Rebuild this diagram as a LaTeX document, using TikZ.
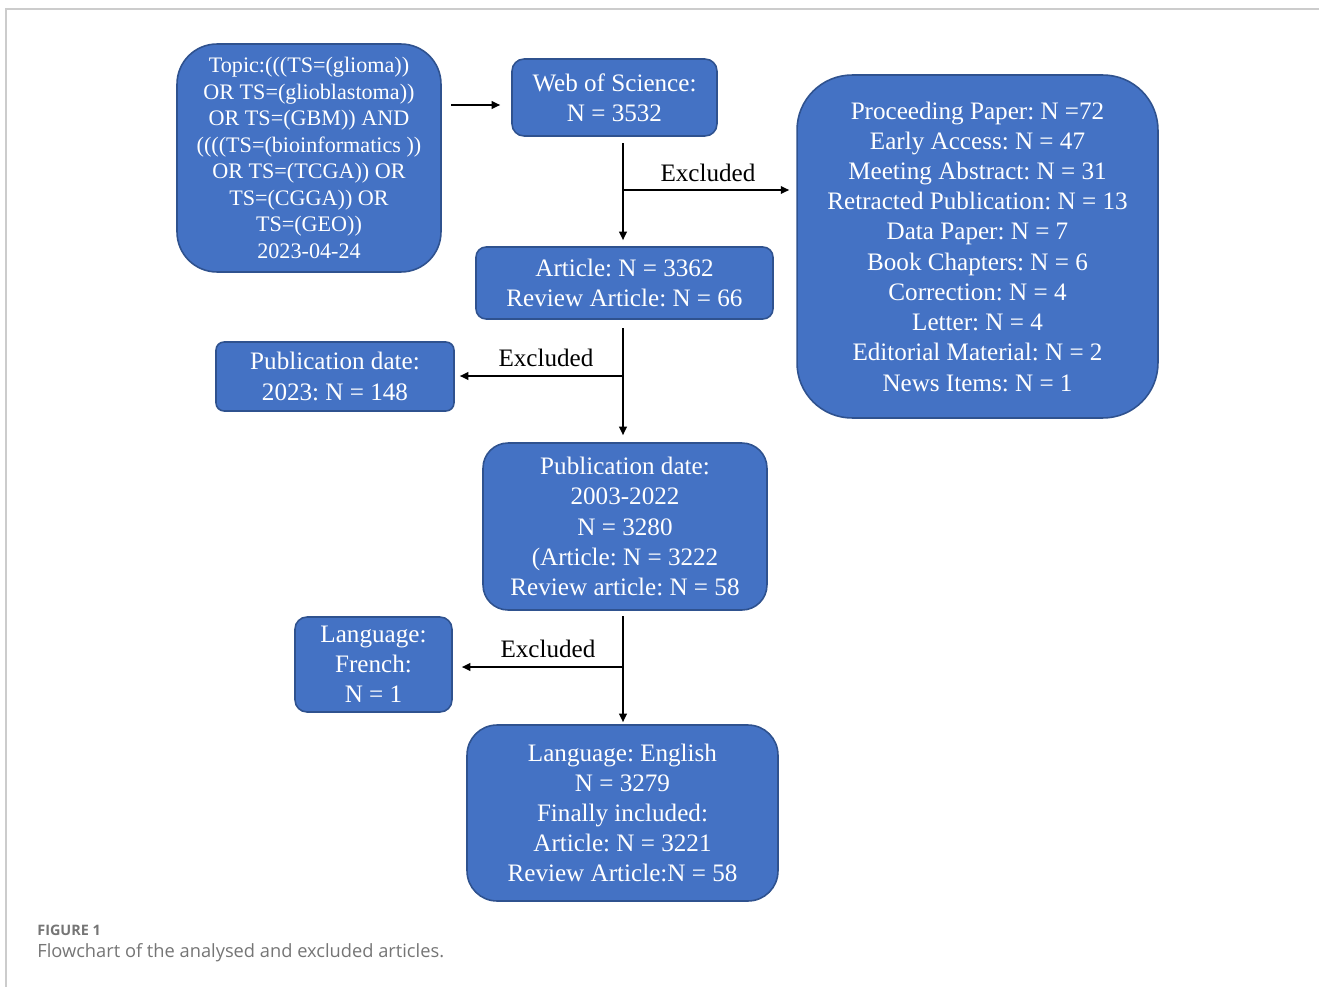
\documentclass[tikz,border=0pt]{standalone}
\usepackage{fontspec}
\setmainfont{Liberation Serif}
\newfontfamily\capfont{Open Sans}
\usetikzlibrary{arrows.meta}
\frenchspacing
\definecolor{boxfill}{HTML}{4472C4}
\definecolor{boxline}{HTML}{2F528F}
\definecolor{capgray}{HTML}{757575}
\definecolor{framegray}{HTML}{CCCCCC}
\tikzset{
  box/.style={draw=boxline, line width=0.9pt, fill=boxfill, text=white, align=center,
    font=\fontsize{14.3}{17.2}\selectfont, inner sep=0pt},
  arr/.style={line width=1.1pt, -{Triangle[length=0.17cm,width=0.15cm]}},
  exlab/.style={font=\fontsize{14.3}{17.2}\selectfont, inner sep=0pt}
}
\begin{document}
\begin{tikzpicture}[x=0.02cm,y=-0.02cm]
\useasboundingbox (0,0) rectangle (1319,987);
% frame
\draw[framegray, line width=0.6pt] (6,987) -- (6,9) -- (1319,9);

% boxes
\node[box, rounded corners=0.8cm, minimum width=5.28cm, minimum height=4.56cm,
  font=\fontsize{12.6}{15.1}\selectfont] (topic) at (309,158)
  {Topic:(((TS=(glioma))\\OR TS=(glioblastoma))\\OR TS=(GBM)) AND\\((((TS=(bioinformatics ))\\OR TS=(TCGA)) OR\\TS=(CGGA)) OR\\TS=(GEO))\\2023-04-24};
\node[box, rounded corners=0.24cm, minimum width=4.1cm, minimum height=1.54cm] (wos) at (614.5,97.5)
  {Web of Science:\\N = 3532};
\node[box, rounded corners=0.2cm, minimum width=5.94cm, minimum height=1.44cm] (art) at (624.5,283)
  {Article: N = 3362\\Review Article: N = 66};
\node[box, rounded corners=1.1cm, minimum width=7.22cm, minimum height=6.86cm] (excl) at (977.5,246.5)
  {Proceeding Paper: N =72\\Early Access: N = 47\\Meeting Abstract: N = 31\\Retracted Publication: N = 13\\Data Paper: N = 7\\Book Chapters: N = 6\\Correction: N = 4\\Letter: N = 4\\Editorial Material: N = 2\\News Items: N = 1};
\node[box, rounded corners=0.16cm, minimum width=4.76cm, minimum height=1.38cm] (p2023) at (335,376.5)
  {Publication date:\\2023: N = 148};
\node[box, rounded corners=0.5cm, minimum width=5.68cm, minimum height=3.34cm] (pdate) at (625,526.5)
  {Publication date:\\2003-2022\\N = 3280\\(Article: N = 3222\\Review article: N = 58};
\node[box, rounded corners=0.24cm, minimum width=3.14cm, minimum height=1.9cm] (fr) at (373.5,664.5)
  {Language:\\French:\\N = 1};
\node[box, rounded corners=0.6cm, minimum width=6.22cm, minimum height=3.52cm] (en) at (622.5,813)
  {Language: English\\N = 3279\\Finally included:\\Article: N = 3221\\Review Article:N = 58};

% connectors
\coordinate (s0) at (451,105);
\draw[arr, shorten >=0.22cm] (s0) -- (s0 -| wos.west);

\coordinate (s1) at (623,143);
\coordinate (j1) at (623,190);
\draw[arr, shorten >=0.12cm] (s1) -- (s1 |- art.north);
\draw[arr, shorten >=0.14cm] (j1) -- (j1 -| excl.west);
\node[exlab] (ex1) at (708,173) {Excluded};

\coordinate (s2) at (623,328);
\coordinate (j2) at (623,376);
\draw[arr, shorten >=0.14cm] (s2) -- (s2 |- pdate.north);
\draw[arr, shorten >=0.1cm] (j2) -- (j2 -| p2023.east);
\node[exlab] (ex2) at (546,358) {Excluded};

\coordinate (s3) at (623,616);
\coordinate (j3) at (623,667);
\draw[arr, shorten >=0.04cm] (s3) -- (s3 |- en.north);
\draw[arr, shorten >=0.18cm] (j3) -- (j3 -| fr.east);
\node[exlab] (ex3) at (548,649) {Excluded};

% caption
\node[anchor=west, inner sep=0pt, text=capgray, font=\capfont\bfseries\fontsize{8.2}{10}\selectfont] (fig) at (37,930) {FIGURE 1};
\node[anchor=west, inner sep=0pt, text=capgray, font=\capfont\fontsize{10.4}{12}\selectfont] (cap) at (37,953) {Flowchart of the analysed and excluded articles.};
\end{tikzpicture}
\end{document}
